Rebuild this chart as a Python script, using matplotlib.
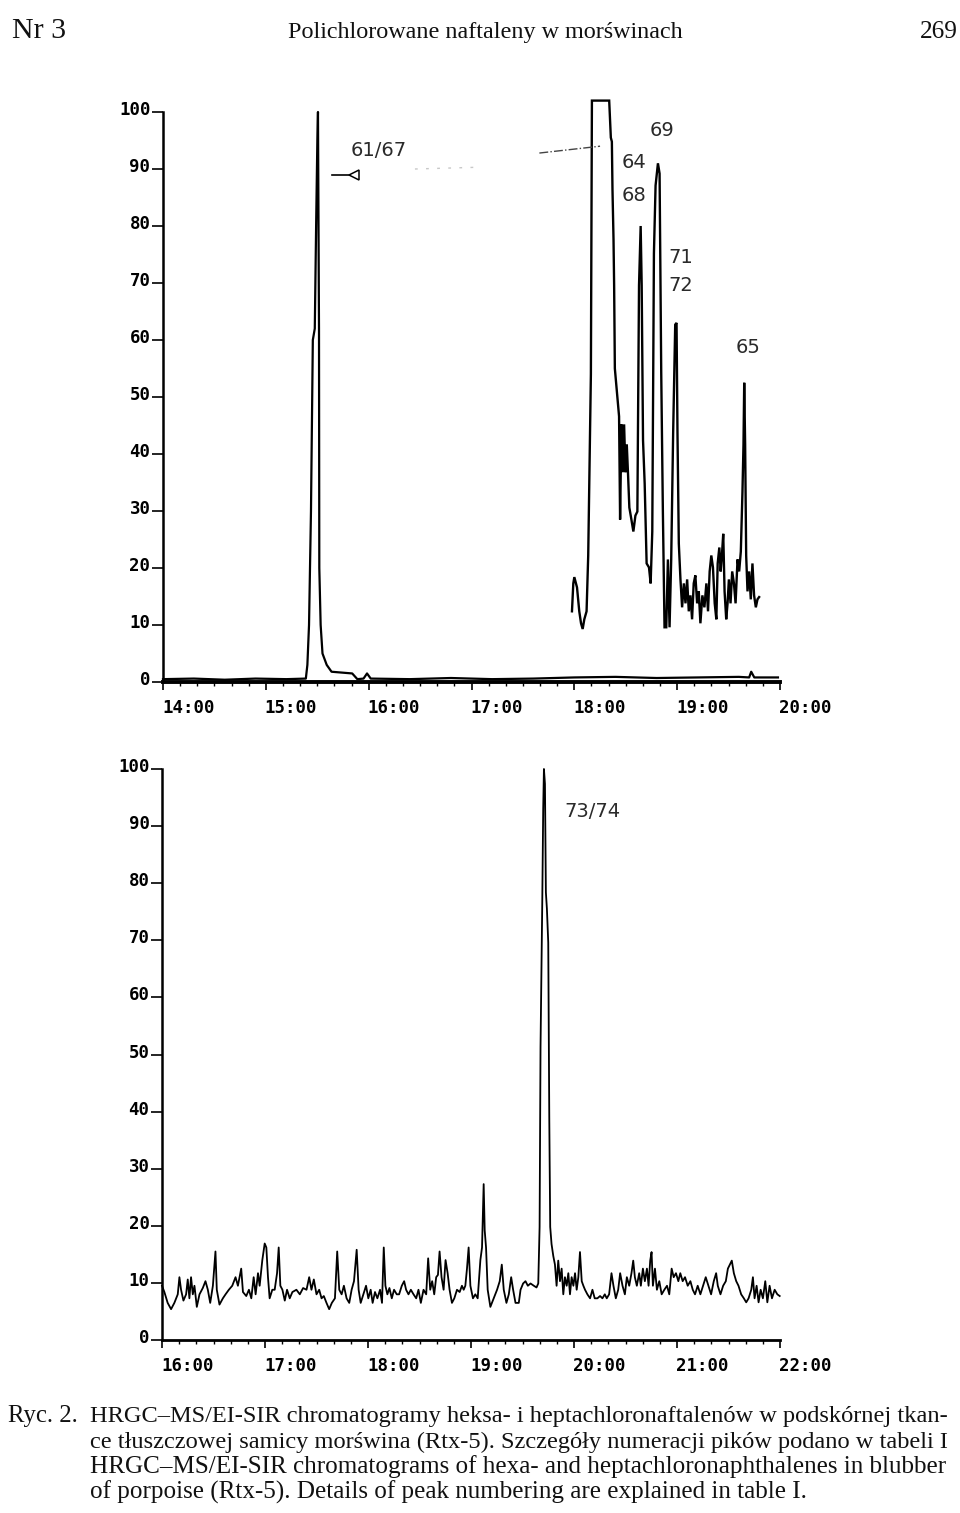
import matplotlib
matplotlib.use("Agg")
import matplotlib.pyplot as plt
from matplotlib.ticker import FixedLocator, MultipleLocator
import matplotlib.transforms as mtrans

W, H = 960, 1513

# ---------------- data ----------------
# upper chromatogram, trace 1 (baseline + peak 61/67)
top1_t = [14.00, 14.30, 14.60, 14.90, 15.20, 15.389, 15.404, 15.420, 15.439, 15.457,
          15.476, 15.489, 15.501, 15.507, 15.517, 15.520, 15.533, 15.551, 15.592,
          15.639, 15.84, 15.89, 15.95, 15.984, 16.02, 16.40, 16.80, 17.20, 17.60,
          18.00, 18.40, 18.80, 19.20, 19.60, 19.70, 19.72, 19.75, 19.98]
top1_v = [0.5, 0.6, 0.4, 0.6, 0.5, 0.6, 3, 10, 30, 60,
          62, 80, 95, 100, 62, 20, 10, 5, 3,
          1.8, 1.5, 0.5, 0.6, 1.5, 0.6, 0.5, 0.7, 0.5, 0.6,
          0.8, 0.9, 0.7, 0.8, 0.9, 0.8, 1.8, 0.8, 0.8]

# upper chromatogram, trace 2 (peaks 64/68, 69, 71/72, 65)
top2_t = [17.977, 17.990, 18.000, 18.026, 18.048, 18.065, 18.081, 18.097, 18.119, 18.135,
          18.161, 18.171, 18.339, 18.355, 18.365, 18.371, 18.381, 18.387, 18.394, 18.435,
          18.445, 18.458, 18.471, 18.484, 18.497, 18.510, 18.523, 18.535, 18.555, 18.574,
          18.594, 18.613, 18.629, 18.645, 18.655, 18.668, 18.684, 18.703, 18.726, 18.742,
          18.758, 18.774, 18.790, 18.813, 18.829, 18.845, 18.861, 18.877, 18.894, 18.910,
          18.926, 18.942, 18.961, 18.981, 18.994, 19.003, 19.016, 19.032, 19.048, 19.065,
          19.081, 19.097, 19.113, 19.129, 19.145, 19.161, 19.177, 19.194, 19.210, 19.226,
          19.245, 19.265, 19.284, 19.300, 19.316, 19.332, 19.348, 19.365, 19.381, 19.394,
          19.410, 19.423, 19.435, 19.448, 19.461, 19.477, 19.490, 19.503, 19.519, 19.535,
          19.552, 19.568, 19.587, 19.603, 19.619, 19.635, 19.645, 19.652, 19.661, 19.671,
          19.684, 19.700, 19.716, 19.732, 19.748, 19.765, 19.781, 19.797]
top2_v = [12.4, 17.3, 18.4, 16.6, 12.4, 10.3, 9.3, 11.0, 12.4, 22.2,
          54.0, 102.0, 102.0, 95.5, 94.8, 86.4, 77.7, 69.6, 55.0, 46.6,
          28.5, 45.2, 36.8, 45.2, 36.8, 41.7, 36.1, 30.6, 28.5, 26.4,
          29.2, 29.9, 69.6, 80.0, 69.6, 42.4, 34.8, 20.8, 20.1, 17.3,
          26.4, 75.2, 87.1, 91.0, 89.2, 54.3, 29.9, 9.6, 9.6, 21.5,
          9.6, 21.5, 43.8, 62.7, 63.0, 43.8, 24.3, 18.0, 13.1, 17.3,
          13.8, 18.0, 12.4, 15.2, 11.0, 17.3, 18.7, 13.8, 15.9, 10.3,
          15.2, 13.1, 17.3, 12.4, 19.4, 22.2, 20.1, 13.8, 11.0, 20.8,
          23.6, 19.4, 22.2, 26.0, 15.9, 11.0, 13.8, 18.0, 13.8, 19.4,
          17.3, 13.8, 21.5, 19.4, 22.9, 33.4, 41.7, 52.5, 41.7, 22.2,
          15.9, 19.4, 14.5, 20.8, 15.2, 13.1, 14.5, 14.9]

# lower chromatogram (peak 73/74)
bot_t = [16.000, 16.023, 16.055, 16.088, 16.120, 16.153, 16.169, 16.185, 16.208, 16.234,
         16.250, 16.266, 16.282, 16.299, 16.315, 16.338, 16.364, 16.396, 16.422, 16.445,
         16.468, 16.494, 16.519, 16.532, 16.558, 16.591, 16.617, 16.649, 16.682, 16.714,
         16.737, 16.769, 16.786, 16.818, 16.844, 16.867, 16.890, 16.909, 16.932, 16.948,
         16.974, 16.997, 17.013, 17.029, 17.045, 17.071, 17.094, 17.117, 17.133, 17.149,
         17.169, 17.192, 17.214, 17.240, 17.266, 17.305, 17.338, 17.370, 17.403, 17.429,
         17.451, 17.474, 17.500, 17.526, 17.549, 17.571, 17.597, 17.623, 17.649, 17.679,
         17.701, 17.721, 17.744, 17.766, 17.792, 17.818, 17.841, 17.864, 17.890, 17.909,
         17.929, 17.955, 17.981, 18.003, 18.026, 18.045, 18.068, 18.091, 18.117, 18.136,
         18.153, 18.169, 18.188, 18.208, 18.231, 18.253, 18.279, 18.302, 18.328, 18.351,
         18.370, 18.393, 18.416, 18.442, 18.468, 18.490, 18.513, 18.539, 18.565, 18.584,
         18.604, 18.623, 18.643, 18.662, 18.679, 18.695, 18.714, 18.734, 18.753, 18.773,
         18.792, 18.815, 18.838, 18.864, 18.890, 18.912, 18.929, 18.945, 18.961, 18.977,
         18.994, 19.019, 19.042, 19.065, 19.091, 19.107, 19.117, 19.123, 19.133, 19.146,
         19.162, 19.188, 19.221, 19.253, 19.279, 19.299, 19.318, 19.344, 19.367, 19.390,
         19.409, 19.432, 19.464, 19.481, 19.506, 19.529, 19.552, 19.578, 19.610, 19.636,
         19.653, 19.666, 19.675, 19.692, 19.701, 19.708, 19.718, 19.727, 19.737, 19.750,
         19.760, 19.769, 19.782, 19.799, 19.815, 19.831, 19.847, 19.864, 19.880, 19.896,
         19.912, 19.929, 19.945, 19.961, 19.977, 19.994, 20.010, 20.026, 20.042, 20.058,
         20.075, 20.091, 20.107, 20.130, 20.156, 20.179, 20.201, 20.227, 20.253, 20.276,
         20.299, 20.318, 20.341, 20.364, 20.383, 20.406, 20.429, 20.448, 20.471, 20.494,
         20.513, 20.536, 20.558, 20.575, 20.591, 20.610, 20.633, 20.649, 20.669, 20.688,
         20.708, 20.724, 20.740, 20.753, 20.766, 20.786, 20.805, 20.828, 20.851, 20.877,
         20.903, 20.925, 20.948, 20.968, 20.990, 21.013, 21.032, 21.055, 21.078, 21.104,
         21.130, 21.153, 21.175, 21.201, 21.227, 21.253, 21.279, 21.305, 21.331, 21.357,
         21.380, 21.396, 21.422, 21.448, 21.474, 21.494, 21.513, 21.532, 21.552, 21.575,
         21.597, 21.623, 21.649, 21.672, 21.695, 21.721, 21.737, 21.753, 21.773, 21.792,
         21.812, 21.834, 21.857, 21.877, 21.899, 21.922, 21.948, 21.974, 21.997]
bot_v = [9.5, 8.4, 6.5, 5.4, 6.5, 8.0, 11.0, 8.8, 6.9, 8.0,
         10.6, 7.3, 11.0, 8.0, 9.5, 5.8, 8.0, 9.1, 10.3, 8.8,
         6.5, 9.5, 15.5, 8.8, 6.2, 7.3, 8.0, 8.8, 9.5, 11.0,
         9.5, 12.5, 8.4, 7.7, 8.8, 7.3, 11.0, 8.0, 11.7, 9.5,
         14.0, 16.9, 16.2, 11.0, 7.3, 8.8, 8.8, 11.7, 16.2, 9.5,
         8.8, 6.9, 8.8, 7.3, 8.4, 8.8, 8.0, 9.1, 8.8, 11.0,
         8.8, 10.6, 8.0, 8.8, 7.3, 7.7, 6.5, 5.4, 6.5, 7.3,
         15.5, 8.8, 8.0, 9.5, 7.3, 6.5, 8.8, 10.3, 15.8, 8.8,
         6.5, 8.0, 9.5, 7.3, 8.8, 6.5, 8.4, 7.3, 8.8, 6.5,
         16.2, 9.5, 8.0, 9.1, 7.3, 8.8, 8.0, 8.0, 9.5, 10.3,
         8.8, 8.0, 8.8, 8.0, 7.3, 8.8, 6.5, 8.8, 8.0, 14.3,
         8.8, 10.3, 8.0, 11.0, 11.4, 15.5, 11.0, 8.8, 14.0, 11.7,
         8.8, 6.5, 7.3, 8.8, 8.4, 9.5, 8.8, 9.5, 12.5, 16.2,
         9.5, 7.3, 8.0, 7.3, 14.0, 16.2, 23.6, 27.3, 19.2, 16.2,
         8.8, 5.8, 7.3, 8.8, 10.3, 13.2, 8.8, 6.5, 8.0, 11.0,
         8.8, 6.5, 6.5, 8.8, 9.9, 10.3, 9.5, 9.9, 9.5, 9.2,
         9.9, 19.8, 51.3, 76.9, 93.0, 100.0, 97.4, 78.4, 75.5, 69.6,
         38.8, 19.8, 16.8, 14.7, 13.2, 9.5, 13.9, 10.3, 12.5, 8.0,
         11.0, 9.5, 11.7, 8.0, 11.0, 9.5, 11.7, 8.8, 11.0, 15.4,
         10.3, 9.5, 8.8, 8.0, 7.3, 8.8, 7.3, 7.3, 7.7, 7.3,
         8.0, 7.3, 8.0, 11.7, 9.5, 7.3, 8.8, 11.7, 9.5, 8.0,
         11.0, 9.5, 11.7, 13.9, 11.0, 9.5, 11.7, 9.5, 12.5, 10.3,
         12.5, 9.5, 13.9, 15.4, 9.5, 12.5, 8.8, 10.3, 8.0, 8.8,
         9.5, 8.0, 12.5, 11.0, 11.7, 10.3, 11.7, 10.3, 11.0, 9.5,
         10.3, 8.8, 8.0, 9.5, 8.0, 9.5, 11.0, 9.5, 8.0, 10.3,
         11.7, 9.5, 8.0, 9.5, 10.3, 12.5, 13.2, 13.9, 11.7, 10.3,
         9.5, 8.0, 7.3, 6.6, 7.3, 8.8, 11.0, 7.3, 9.5, 6.6,
         8.8, 7.3, 10.3, 6.6, 9.5, 7.3, 8.8, 8.0, 7.7]

top_xticks = [14, 15, 16, 17, 18, 19, 20]
bot_xticks = [16, 17, 18, 19, 20, 21, 22]
yticks = [0, 10, 20, 30, 40, 50, 60, 70, 80, 90, 100]

top_labels = [("61/67", 16.10, 93.3), ("69", 18.853, 96.8), ("64", 18.58, 91.1),
              ("68", 18.58, 85.3), ("71", 19.03, 74.4), ("72", 19.03, 69.6),
              ("65", 19.69, 58.6)]
bot_labels = [("73/74", 20.18, 92.5)]

header = ["Nr 3", "Polichlorowane naftaleny w morświnach", "269"]
caption = ["Ryc. 2.",
           "HRGC–MS/EI-SIR chromatogramy heksa- i heptachloronaftalenów w podskórnej tkan-",
           "ce tłuszczowej samicy morświna (Rtx-5). Szczegóły numeracji pików podano w tabeli I",
           "HRGC–MS/EI-SIR chromatograms of hexa- and heptachloronaphthalenes in blubber",
           "of porpoise (Rtx-5). Details of peak numbering are explained in table I."]

# ---------------- figure ----------------
fig = plt.figure(figsize=(W / 100, H / 100), dpi=100)
fig.patch.set_facecolor("white")
renderer = fig.canvas.get_renderer()

TICKFONT = dict(family="DejaVu Sans Mono", weight="bold", size=12.5)
LABFONT = dict(family="DejaVu Sans", size=14, color="#2a2a2a")
SERIF = "Liberation Serif"


def px_axes(x0, x1, y_bottom, y_top):
    return fig.add_axes([x0 / W, 1 - y_bottom / H, (x1 - x0) / W, (y_bottom - y_top) / H])


def style_axes(ax, xticks, xlim, bottom_lw):
    ax.set_xlim(*xlim)
    ax.set_ylim(0, 100)
    for s in ("top", "right"):
        ax.spines[s].set_visible(False)
    ax.spines["left"].set_linewidth(1.8)
    ax.spines["bottom"].set_linewidth(bottom_lw)
    ax.xaxis.set_major_locator(FixedLocator(xticks))
    ax.xaxis.set_minor_locator(MultipleLocator(1 / 6))
    ax.set_xticklabels([f"{t}:00" for t in xticks], fontdict=TICKFONT)
    ax.yaxis.set_major_locator(FixedLocator(yticks))
    ax.set_yticklabels([str(v) for v in yticks], fontdict=TICKFONT)
    ax.tick_params(axis="x", which="major", direction="out", length=6, width=1.2, pad=6)
    ax.tick_params(axis="x", which="minor", direction="out", length=3, width=1.0)
    ax.tick_params(axis="y", which="major", direction="out", length=8, width=1.2, pad=1)
    for lab in ax.get_xticklabels():
        lab.set_horizontalalignment("left")
        lab.set_transform(lab.get_transform() + mtrans.ScaledTranslation(-1 / 100, 0, fig.dpi_scale_trans))
    for lab in ax.get_yticklabels():
        lab.set_transform(lab.get_transform() + mtrans.ScaledTranslation(0, 4 / 100, fig.dpi_scale_trans))


# upper chromatogram
ax1 = px_axes(163, 780, 682, 112)
style_axes(ax1, top_xticks, (14, 20), 2.8)
ax1.plot(top1_t, top1_v, color="black", lw=1.6, clip_on=False)
ax1.plot(top2_t, top2_v, color="black", lw=1.7, clip_on=False, solid_joinstyle="miter")
for s, x, y in top_labels:
    ax1.text(x, y, s, ha="center", va="center", **LABFONT)
# leader marks near the labels
ax1.plot([15.64, 15.86], [89.0, 89.0], color="black", lw=1.2)
ax1.plot([15.86], [89.0], marker="<", ms=7, mfc="white", mec="black", mew=1.1)
ax1.plot([16.45, 17.05], [90.0, 90.3], color="#c8c8c8", lw=1.0, ls=(0, (2, 6)))
ax1.plot([17.66, 18.25], [92.8, 94.0], color="#444444", lw=1.0, ls="-.")

# lower chromatogram
ax2 = px_axes(162, 780, 1340, 769)
style_axes(ax2, bot_xticks, (16, 22), 2.0)
ax2.plot(bot_t, bot_v, color="black", lw=1.3, clip_on=False)
for s, x, y in bot_labels:
    ax2.text(x, y, s, ha="center", va="center", **LABFONT)


def fit_text(s, x0, x1, ybase):
    t = fig.text(x0 / W, 1 - ybase / H, s, fontsize=10, family=SERIF,
                 ha="left", va="baseline", color="#111111")
    w = t.get_window_extent(renderer).width
    t.set_fontsize(10 * (x1 - x0) / w)
    return t


# header
fit_text(header[0], 12, 66, 38)
fit_text(header[1], 288, 683, 38)
fit_text(header[2], 920, 958, 38)

# caption
fit_text(caption[0], 8, 78, 1422)
fit_text(caption[1], 90, 948, 1422)
fit_text(caption[2], 90, 948, 1448)
fit_text(caption[3], 90, 948, 1473)
fit_text(caption[4], 90, 808, 1499)

fig.savefig("out.png", dpi=100, facecolor="white")
